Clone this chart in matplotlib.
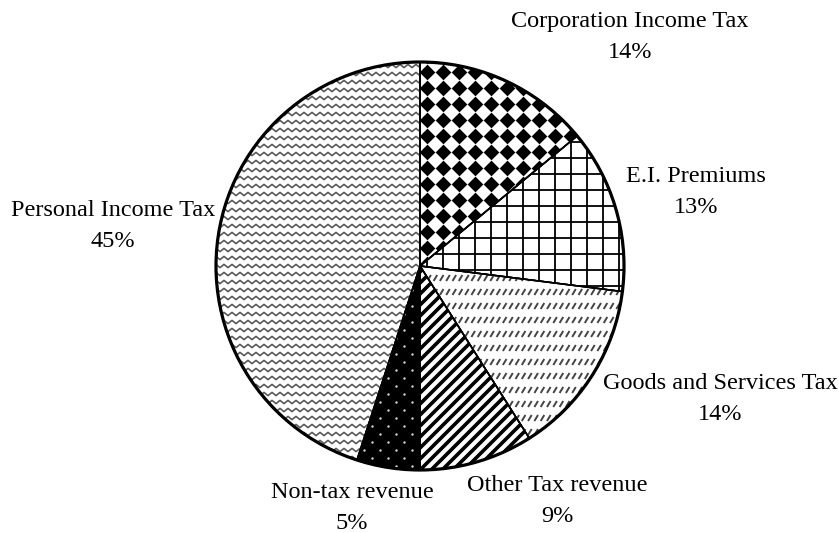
import numpy as np
import matplotlib
matplotlib.use("Agg")
import matplotlib.pyplot as plt
from matplotlib.patches import Circle, Wedge
from matplotlib.collections import LineCollection

# ---- data ----
categories = ["Corporation Income Tax", "E.I. Premiums", "Goods and Services Tax",
              "Other Tax revenue", "Non-tax revenue", "Personal Income Tax"]
shares = [14, 13, 14, 9, 5, 45]

# ---- layout (pixel coords, y measured from top) ----
W, H = 839, 533
CX, CY, R = 420, 266, 204
label_pos = [(630, 37), (696, 192), (720, 399), (557, 501), (352, 508), (113, 226)]

fig = plt.figure(figsize=(W / 100, H / 100), dpi=100)
ax = fig.add_axes([0, 0, 1, 1])

wedges, _ = ax.pie(shares, startangle=90, counterclock=False, center=(CX, H - CY),
                   radius=R, frame=True,
                   wedgeprops=dict(facecolor="white", edgecolor="black", linewidth=1.1))
ax.set_xlim(0, W)
ax.set_ylim(0, H)
ax.set_aspect("equal")
ax.axis("off")

x0, x1 = CX - R - 20, CX + R + 20
y0, y1 = H - CY - R - 20, H - CY + R + 20

# 0: Corporation - black diamonds on a grid
w = wedges[0]
gx = np.arange(426.7 - 16 * 30, x1, 16)
gx = gx[gx > x0]
gy = np.arange(H - 71.7 - 16 * 30, y1 + 16 * 30, 16)
gy = gy[(gy > y0) & (gy < y1)]
XX, YY = np.meshgrid(gx, gy)
sc = ax.scatter(XX.ravel(), YY.ravel(), marker="D", s=64, c="black", linewidths=0, zorder=3)
sc.set_clip_path(w)

# 1: E.I. - square grid
w = wedges[1]
segs = []
for xv in np.arange(427 - 16 * 30, x1, 16):
    if xv > x0:
        segs.append([(xv, y0), (xv, y1)])
for yv in np.arange(H - 270 - 16 * 30, y1 + 16 * 30, 16):
    if y0 < yv < y1:
        segs.append([(x0, yv), (x1, yv)])
lc = LineCollection(segs, colors="black", linewidths=1.3, zorder=3)
ax.add_collection(lc)
lc.set_clip_path(w)

# 2: GST - rows of short gray slashes
w = wedges[2]
segs = []
for yv in np.arange(H - 292 - 14 * 40, y1, 14):
    if yv < y0:
        continue
    for xv in np.arange(x0, x1, 6.3):
        segs.append([(xv - 1.8, yv - 3.0), (xv + 1.8, yv + 3.0)])
lc = LineCollection(segs, colors="#444444", linewidths=1.4, zorder=3)
ax.add_collection(lc)
lc.set_clip_path(w)

# 3: Other tax - thick diagonal lines
w = wedges[3]
segs = []
span = (x1 - x0) + (y1 - y0)
for c in np.arange(-span, span, 11):
    segs.append([(x0 + c, y0), (x0 + c + (y1 - y0), y1)])
lc = LineCollection(segs, colors="black", linewidths=2.6, zorder=3)
ax.add_collection(lc)
lc.set_clip_path(w)

# 4: Non-tax - black with small light dots
w = wedges[4]
w.set_facecolor("black")
pts = []
for i, yv in enumerate(np.arange(y0, y1, 8)):
    off = 0 if i % 2 == 0 else 8
    for xv in np.arange(x0 + off, x1, 16):
        pts.append((xv, yv))
pts = np.array(pts)
sc = ax.scatter(pts[:, 0], pts[:, 1], s=3, c="#dddddd", linewidths=0, zorder=3)
sc.set_clip_path(w)

# 5: Personal - gray zigzag lines
w = wedges[5]
segs = []
zx = np.arange(x0, x1, 4)
for yv in np.arange(y0, y1, 8):
    zy = yv + np.where((np.arange(len(zx)) % 2) == 0, -1.6, 1.6)
    segs.append(np.column_stack([zx, zy]))
lc = LineCollection(segs, colors="#5a5a5a", linewidths=1.2, zorder=3)
ax.add_collection(lc)
lc.set_clip_path(w)

# wedge edges on top
for w in wedges:
    w.set_zorder(2)
    ax.add_patch(Wedge(w.center, w.r, w.theta1, w.theta2, facecolor="none",
                       edgecolor="black", linewidth=1.1, zorder=4))

ax.add_patch(Circle((CX, H - CY), R, facecolor="none", edgecolor="black",
                    linewidth=2.3, zorder=5))

for name, val, (lx, ly) in zip(categories, shares, label_pos):
    ax.text(lx, H - ly, f"{name}\n{val}%", ha="center", va="center",
            family="Liberation Serif", fontsize=17.5, linespacing=1.6, zorder=6)

fig.savefig("out.png", dpi=100)
